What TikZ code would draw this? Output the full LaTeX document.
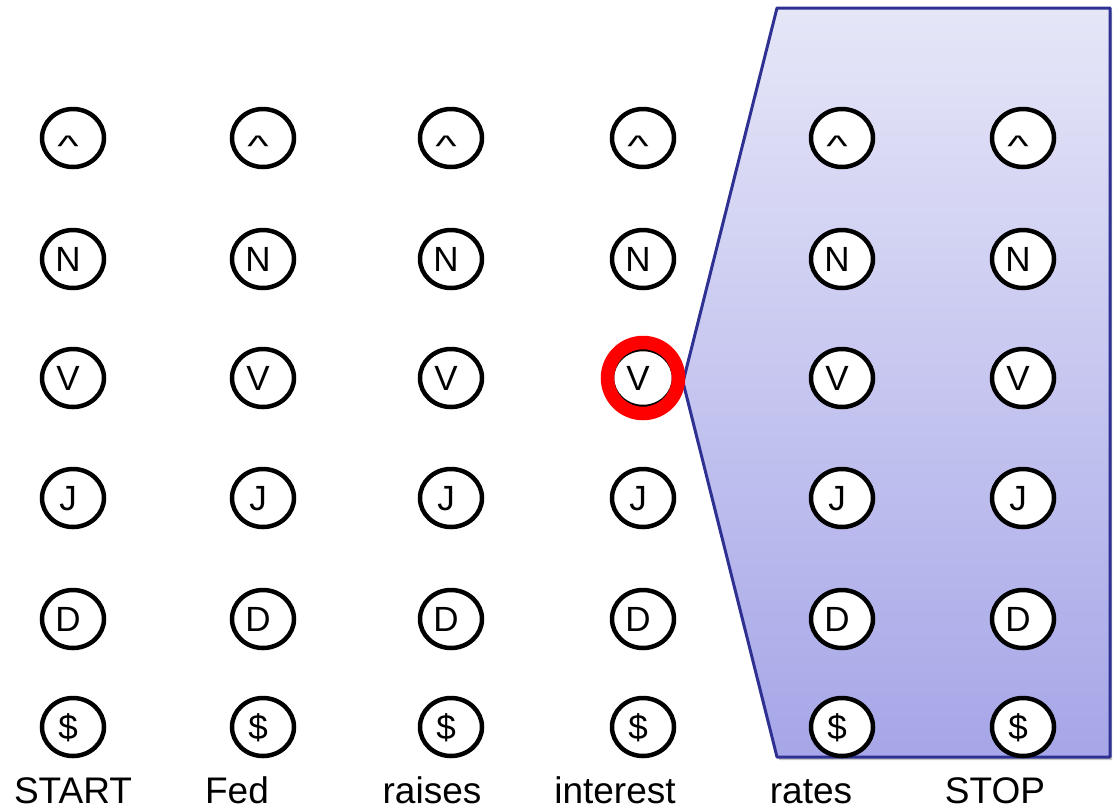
\documentclass[tikz,border=0pt]{standalone}
\usepackage{fontspec}
\usepackage{graphicx}
\setmainfont{Liberation Sans}
\usetikzlibrary{shapes.geometric,calc}
\definecolor{polyborder}{HTML}{2E3192}
\definecolor{polytop}{HTML}{E6E6F8}
\definecolor{polybot}{HTML}{A6A6E8}
\definecolor{ringred}{HTML}{FF0000}
\newcommand{\caretsym}{\raisebox{-6pt}{\scalebox{1.3}[0.85]{\textasciicircum}}}
\tikzset{
  statenode/.style={ellipse, draw=black, line width=4.5pt, fill=white,
    minimum width=62pt, minimum height=58pt, inner sep=0pt,
    text height=25pt, text depth=0pt,
    font=\fontsize{35}{38}\selectfont},
  wordlabel/.style={anchor=base, inner sep=0pt, font=\fontsize{37}{40}\selectfont},
}
\begin{document}
\begin{tikzpicture}[x=1pt,y=-1pt]
\useasboundingbox (0,0) rectangle (1114,807);
% shaded region
\coordinate (p1) at (777,8);
\coordinate (p2) at (1110,8);
\coordinate (p3) at (1110,757);
\coordinate (p4) at (777,757);
\coordinate (p5) at (683,382);
\fill[black!22] ($(p1)+(2,3)$) -- ($(p2)+(2,3)$) -- ($(p3)+(2,3)$) -- ($(p4)+(2,3)$) -- ($(p5)+(2,3)$) -- cycle;
\shade[top color=polytop, bottom color=polybot] (p1) -- (p2) -- (p3) -- (p4) -- (p5) -- cycle;
\draw[polyborder, line width=3pt, line join=round] (p1) -- (p2) -- (p3) -- (p4) -- (p5) -- cycle;
% nodes
\foreach \c/\x in {1/73,2/263,3/451,4/643,5/842,6/1023}{
  \foreach \r/\y/\t in {1/138/\caretsym,2/259/N,3/378/V,4/498/J,5/619/D,6/727/\$}{
    \node[statenode] (n\r\c) at (\x,\y) {\t\kern10pt};
  }
}
% highlight ring
\draw[ringred, line width=13.5pt] (n34.center) circle[radius=35.5];
% word labels
\node[wordlabel] (w1) at (73,803) {START};
\node[wordlabel] (w2) at (237,803) {Fed};
\node[wordlabel] (w3) at (432,803) {raises};
\node[wordlabel] (w4) at (615,803) {interest};
\node[wordlabel] (w5) at (811,803) {rates};
\node[wordlabel] (w6) at (995,803) {STOP};
\end{tikzpicture}
\end{document}
